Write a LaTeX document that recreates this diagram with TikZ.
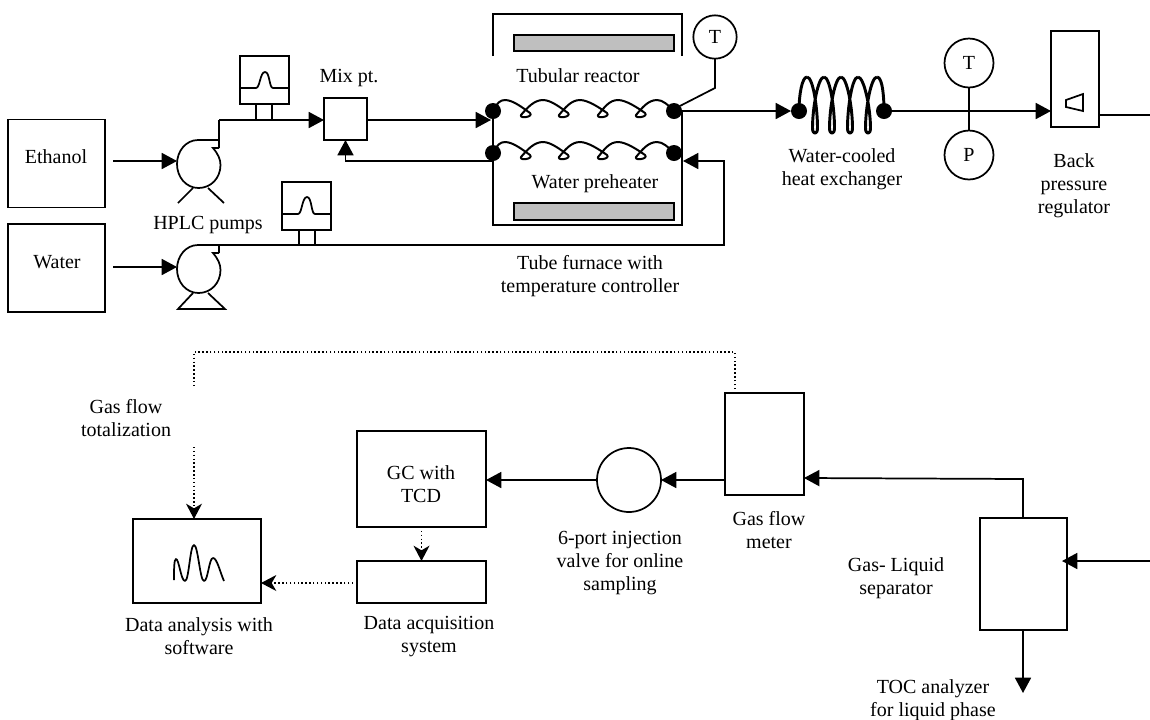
\documentclass[tikz,border=0pt]{standalone}
\usepackage{fontspec}
\setmainfont{Liberation Serif}
\usetikzlibrary{arrows.meta,shapes.geometric}
\tikzset{
  x=0.75pt,y=-0.75pt,
  sz/.style 2 args={minimum width=#1*0.75pt,minimum height=#2*0.75pt},
  lw/.style={line width=1.3pt},
  box/.style={draw,lw,rectangle,inner sep=0pt,outer sep=0pt,fill=white,align=center},
  bar/.style={box,fill=black!25},
  round/.style={draw,lw,circle,inner sep=0pt,outer sep=0pt,fill=white},
  blob/.style={circle,fill=black,draw=none,inner sep=0pt,outer sep=0pt,minimum size=12pt},
  txt/.style={align=center,inner sep=0pt,font=\fontsize{15}{17.25}\selectfont},
  pipe/.style={lw},
  flow/.style={lw,-{Triangle[length=11.5pt,width=12pt]}},
  sig/.style={line width=1.1pt,dash pattern=on 1.1pt off 1.8pt},
  sigarrow/.style={line width=1.1pt,dash pattern=on 1.1pt off 1.8pt,-{Stealth[length=11.5pt,width=12pt,inset=3.5pt]}},
  coilline/.style={line width=1.5pt,line join=round},
  hxline/.style={line width=2.2pt,line join=round}
}
\begin{document}
\begin{tikzpicture}
\useasboundingbox (0,0) rectangle (1150,719);
\fill[white] (0,0) rectangle (1150,719);

% feed tanks
\node[box,sz={97}{88}] (eth) at (56.5,163.5) {};
\node[box,sz={97}{88}] (wat) at (56.5,268) {};
\node[txt] (leth) at (56,157) {Ethanol};
\node[txt] (lwat) at (57,262) {Water};

% pump bodies
\node[inner sep=0pt,outer sep=0pt,ellipse,minimum width=32.5pt,minimum height=36pt] (p1) at (198.5,164) {};
\node[inner sep=0pt,outer sep=0pt,ellipse,minimum width=32.5pt,minimum height=36pt] (p2) at (198.5,269) {};
\draw[lw] (219,148) -- (213,148) .. controls (218,154) and (220.5,159) .. (220.5,165)
  .. controls (220.5,178) and (211,188) .. (198.5,188) .. controls (186,188) and (177,177) .. (177,164)
  .. controls (177,151) and (186,140) .. (198,140) -- (219,140);
\draw[lw] (219,253) -- (213,253) .. controls (218,259) and (220.5,264) .. (220.5,270)
  .. controls (220.5,283) and (211,293) .. (198.5,293) .. controls (186,293) and (177,282) .. (177,269)
  .. controls (177,256) and (186,245) .. (198,245) -- (219,245);
\draw[lw] (219,245) -- (219,253);
\draw[lw] (193,188) -- (178,203);
\draw[lw] (208,188) -- (224,203);
\draw[lw,line join=miter] (193,293) -- (178,309) -- (225,309) -- (208,293);

\coordinate (e0) at (113,161);
\coordinate (w0) at (113,267);
\draw[flow] (e0) -- (177,161);
\draw[flow] (w0) -- (177,267);

% flow controllers
\node[box,sz={49}{48}] (fc1) at (264.5,80) {};
\node[box,sz={49}{48}] (fc2) at (306.5,206) {};
\draw[lw] (fc1.west |- 0,88) -- (256,88) .. controls (260,88) and (260,72) .. (265,72)
  .. controls (270,72) and (269,88) .. (273,88) -- (fc1.east |- 0,88);
\draw[lw] (fc2.west |- 0,214) -- (298,214) .. controls (302,214) and (302,197) .. (307,197)
  .. controls (312,197) and (311,214) .. (315,214) -- (fc2.east |- 0,214);
\draw[lw] (256,104) -- (256,120);
\draw[lw] (272,104) -- (272,120);
\draw[lw] (299,230) -- (299,245);
\draw[lw] (315,230) -- (315,245);

% mixing point
\node[box,sz={43}{42}] (mix) at (345.5,119) {};
\coordinate (p1up) at (219,120);
\draw[pipe] (219,148) -- (p1up);
\draw[flow] (p1up) -- (mix.west |- p1up);

% furnace
\draw[lw,line join=miter] (493,56) -- (493,14) -- (682,14) -- (682,56);
\draw[lw,line join=miter] (493,119) -- (493,225) -- (682,225) -- (682,111);
\node[bar,sz={160}{16}] (h1) at (594,43) {};
\node[bar,sz={160}{17}] (h2) at (594,211.5) {};

% coils
\foreach \dy in {0,42} {
  \begin{scope}[shift={(0,\dy)}]
  \draw[coilline] (493,111) .. controls (497,103) and (500,100) .. (505,100);
  \foreach \a/\l/\b in {505/526/543,543/564/580,580/603/618,618/641/657} {
    \draw[coilline] (\a,100) .. controls (\a+8,100) and (\l-3,108) .. (\l+4,113)
      .. controls (\l+8,117) and (\l-7,119) .. (\l-5,115)
      .. controls (\l+1,108) and (\b-9,100) .. (\b,100);
  }
  \draw[coilline] (657,100) .. controls (663,100) and (668,105) .. (674,111);
  \end{scope}
}
\node[blob] (r1) at (493,111) {};
\node[blob] (r2) at (674,111) {};
\node[blob] (w1) at (493,153) {};
\node[blob] (w2) at (674,153) {};

\coordinate (rin) at (491,120);
\draw[flow] (mix.east |- rin) -- (rin);
\coordinate (wout) at (493,161);
\draw[flow] (wout) -| (mix.south);
\coordinate (wbend) at (724,245);
\coordinate (win) at (683,161);
\draw[flow] (219,245) -- (wbend) -- (wbend |- win) -- (win);

% reactor thermocouple
\node[round,minimum size=32.5pt,txt] (t1) at (715,37) {T};
\coordinate (tk) at (715,88);
\draw[lw] (t1.south) -- (tk) -- (r2.40);

% heat exchanger
\node[blob] (hx1) at (799,111) {};
\node[blob] (hx2) at (884,111) {};
\draw[hxline] (799,111) .. controls (799,95) and (802,77) .. (807,77);
\foreach \a/\l/\b in {807/815/824,824/832/841,841/850/858,858/868/877} {
  \draw[hxline] (\a,77) .. controls (\a+6,77) and (\l+2.5,108) .. (\l+2.5,128)
    .. controls (\l+2.5,135) and (\l-2.5,135) .. (\l-2.5,128)
    .. controls (\l-2.5,108) and (\b-6,77) .. (\b,77);
}
\draw[hxline] (877,77) .. controls (883,77) and (884,100) .. (884,111);
\draw[flow] (r2 |- 0,111) -- (hx1.west);

% T / P sensors
\node[round,minimum size=36.75pt,txt] (t2) at (969,63) {T};
\node[round,minimum size=36.75pt,txt] (pp) at (969,155) {P};
\draw[lw] (t2.south) -- (pp.north);

% back pressure regulator
\node[box,sz={48}{96}] (bpr) at (1075,79) {};
\draw[lw,line join=miter] (1066,100) -- (1083,94) -- (1083,111) -- (1066,107) -- cycle;
\coordinate (bprin) at (bpr.west |- 0,111);
\draw[flow] (hx2.east) -- (bprin);
\coordinate (bprout) at (1150,115);
\draw[pipe] (bpr.east |- bprout) -- (bprout);

% top labels
\node[txt] (lmix) at (349,78.5) {Mix pt.};
\node[txt] (lhplc) at (208,225) {HPLC pumps};
\node[txt] (ltub) at (578,76) {Tubular reactor};
\node[txt] (lpre) at (595,184) {Water preheater};
\node[txt] (lfur) at (590,276.5) {Tube furnace with\\temperature controller};
\node[txt] (lhx) at (842,169.5) {Water-cooled\\heat exchanger};
\node[txt] (lbpr) at (1074,186) {Back\\pressure\\regulator};

% bottom row
\node[box,sz={128}{84}] (ana) at (197,561) {};
\node[box,sz={129}{96}] (gc) at (421.5,479) {};
\node[txt] (lgc) at (421,484) {GC with\\TCD};
\node[box,sz={129}{42}] (daq) at (421.5,582) {};
\node[round,minimum size=48pt] (valve) at (629,480) {};
\node[box,sz={79}{102}] (gfm) at (764.5,444) {};
\node[box,sz={86.5}{112}] (sep) at (1023.5,574) {};

\draw[lw,line join=round] (174,580) .. controls (174,570) and (174,559) .. (176,559)
  .. controls (179,559) and (181,581) .. (185,581)
  .. controls (189,581) and (190,545) .. (194,545)
  .. controls (198,545) and (200,581) .. (204,581)
  .. controls (208,581) and (209,558) .. (213,558)
  .. controls (217,558) and (220,572) .. (224,581);

\draw[flow] (valve.west |- 0,480) -- (gc.east |- 0,480);
\draw[flow] (gfm.west |- 0,480) -- (valve.east |- 0,480);
\coordinate (sepup) at (1023,479);
\draw[flow] (sep.north -| sepup) -- (sepup) -- (gfm.east |- 0,478);
\coordinate (sepin) at (1150,561);
\coordinate (septip) at (1062,561);
\draw[flow] (sepin) -- (septip);
\coordinate (toc) at (1023,693);
\draw[flow] (sep.south -| toc) -- (toc);

\coordinate (dl) at (194,352);
\coordinate (dr) at (735,352);
\coordinate (dend) at (194,385);
\coordinate (dstart) at (194,447);
\draw[sig] (gfm.north -| dr) -- (dr) -- (dl) -- (dend);
\draw[sigarrow] (dstart) -- (ana.north -| dstart);
\draw[sigarrow] (gc.south) -- (daq.north);
\draw[sigarrow] (daq.west |- 0,583) -- (ana.east |- 0,583);

\node[txt] (lgas) at (126,418.5) {Gas flow\\totalization};
\node[txt] (lana) at (199,636.5) {Data analysis with\\software};
\node[txt] (ldaq) at (429,636.5) {Data acquisition\\system};
\node[txt] (lval) at (620,563.5) {6-port injection\\valve for online\\sampling};
\node[txt] (lgfm) at (769,530) {Gas flow\\meter};
\node[txt] (lsep) at (896,578.5) {Gas- Liquid\\separator};
\node[txt] (ltoc) at (933,700.5) {TOC analyzer\\for liquid phase};
\end{tikzpicture}
\end{document}
